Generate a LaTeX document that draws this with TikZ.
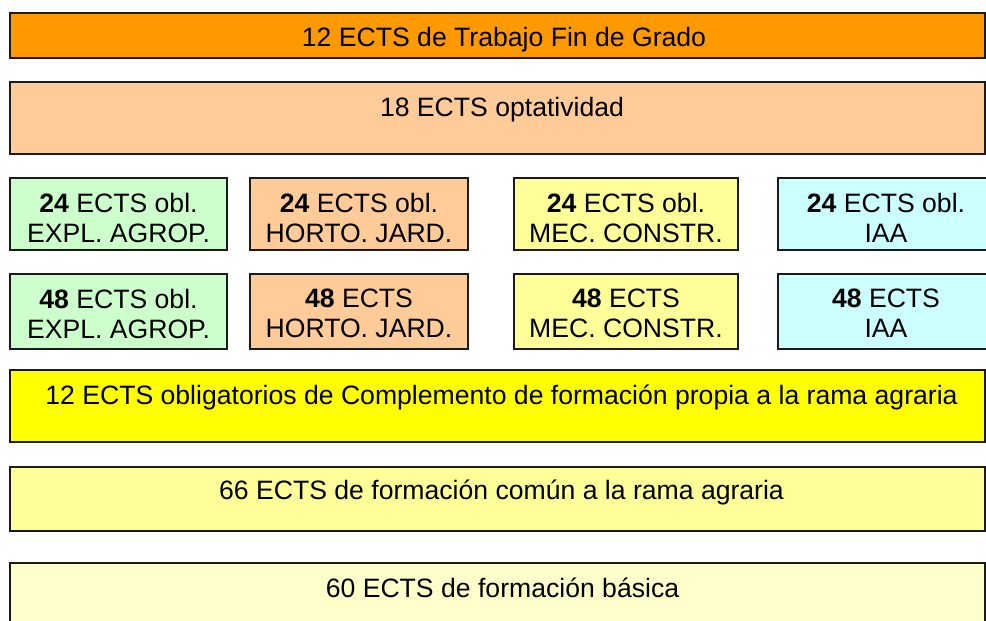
\documentclass[tikz,border=0pt]{standalone}
\usepackage{fontspec}
\setmainfont{Liberation Sans}
\definecolor{cOrange}{HTML}{FF9900}
\definecolor{cPeach}{HTML}{FFCC99}
\definecolor{cGreen}{HTML}{CCFFCC}
\definecolor{cLYellow}{HTML}{FFFF99}
\definecolor{cCyan}{HTML}{CCFFFF}
\definecolor{cYellow}{HTML}{FFFF00}
\definecolor{cPale}{HTML}{FFFFCC}
\definecolor{cBorder}{HTML}{1A1A1A}
\begin{document}
\begin{tikzpicture}[x=1pt,y=-1pt,
  boxshape/.style={draw=cBorder, line width=1.6pt, rectangle, inner sep=0pt},
  lbl/.style={font=\fontsize{26.6}{30}\selectfont, inner sep=0pt, align=center, text=black},
  cell/.style={boxshape, minimum height=#1}]
\useasboundingbox (0,0) rectangle (986,621);
\clip (0,0) rectangle (986,621);
% wide bars
\node[boxshape, fill=cOrange, minimum width=975pt, minimum height=45pt] (tfg) at (497.5,35.5) {};
\node[lbl] (tfgt) at (504,40) {12 ECTS de Trabajo Fin de Grado};
\node[boxshape, fill=cPeach, minimum width=975pt, minimum height=72pt] (opt) at (497.5,118) {};
\node[lbl] (optt) at (502,110) {18 ECTS optatividad};
% row 1
\node[cell=72pt, fill=cGreen, minimum width=217pt] (a1) at (118.5,214) {};
\node[cell=72pt, fill=cPeach, minimum width=218pt] (b1) at (359,214) {};
\node[cell=72pt, fill=cLYellow, minimum width=224pt] (c1) at (626,214) {};
\node[cell=72pt, fill=cCyan, minimum width=216pt] (d1) at (886,214) {};
\node[lbl] (a1t) at (118.5,217.5) {\textbf{24} ECTS obl.\\EXPL. AGROP.};
\node[lbl] (b1t) at (359,217.5) {\textbf{24} ECTS obl.\\HORTO. JARD.};
\node[lbl] (c1t) at (626,217.5) {\textbf{24} ECTS obl.\\MEC. CONSTR.};
\node[lbl] (d1t) at (886,217.5) {\textbf{24} ECTS obl.\\IAA};
% row 2
\node[cell=75pt, fill=cGreen, minimum width=217pt] (a2) at (118.5,311.5) {};
\node[cell=75pt, fill=cPeach, minimum width=218pt] (b2) at (359,311.5) {};
\node[cell=75pt, fill=cLYellow, minimum width=224pt] (c2) at (626,311.5) {};
\node[cell=75pt, fill=cCyan, minimum width=216pt] (d2) at (886,311.5) {};
\node[lbl] (a2t) at (118.5,313.5) {\textbf{48} ECTS obl.\\EXPL. AGROP.};
\node[lbl] (b2t) at (359,313.5) {\textbf{48} ECTS\\HORTO. JARD.};
\node[lbl] (c2t) at (626,313.5) {\textbf{48} ECTS\\MEC. CONSTR.};
\node[lbl] (d2t) at (886,313.5) {\textbf{48} ECTS\\IAA};
% lower bars
\node[boxshape, fill=cYellow, minimum width=975pt, minimum height=72pt] (comp) at (497.5,406) {};
\node[lbl] (compt) at (501.5,397) {12 ECTS obligatorios de Complemento de formación propia a la rama agraria};
\node[boxshape, fill=cLYellow, minimum width=975pt, minimum height=64pt] (comun) at (497.5,499) {};
\node[lbl] (comunt) at (501.5,492) {66 ECTS de formación común a la rama agraria};
\node[boxshape, fill=cPale, minimum width=975pt, minimum height=80pt] (basica) at (497.5,603) {};
\node[lbl] (basicat) at (502.5,588) {60 ECTS de formación básica};
\end{tikzpicture}
\end{document}
